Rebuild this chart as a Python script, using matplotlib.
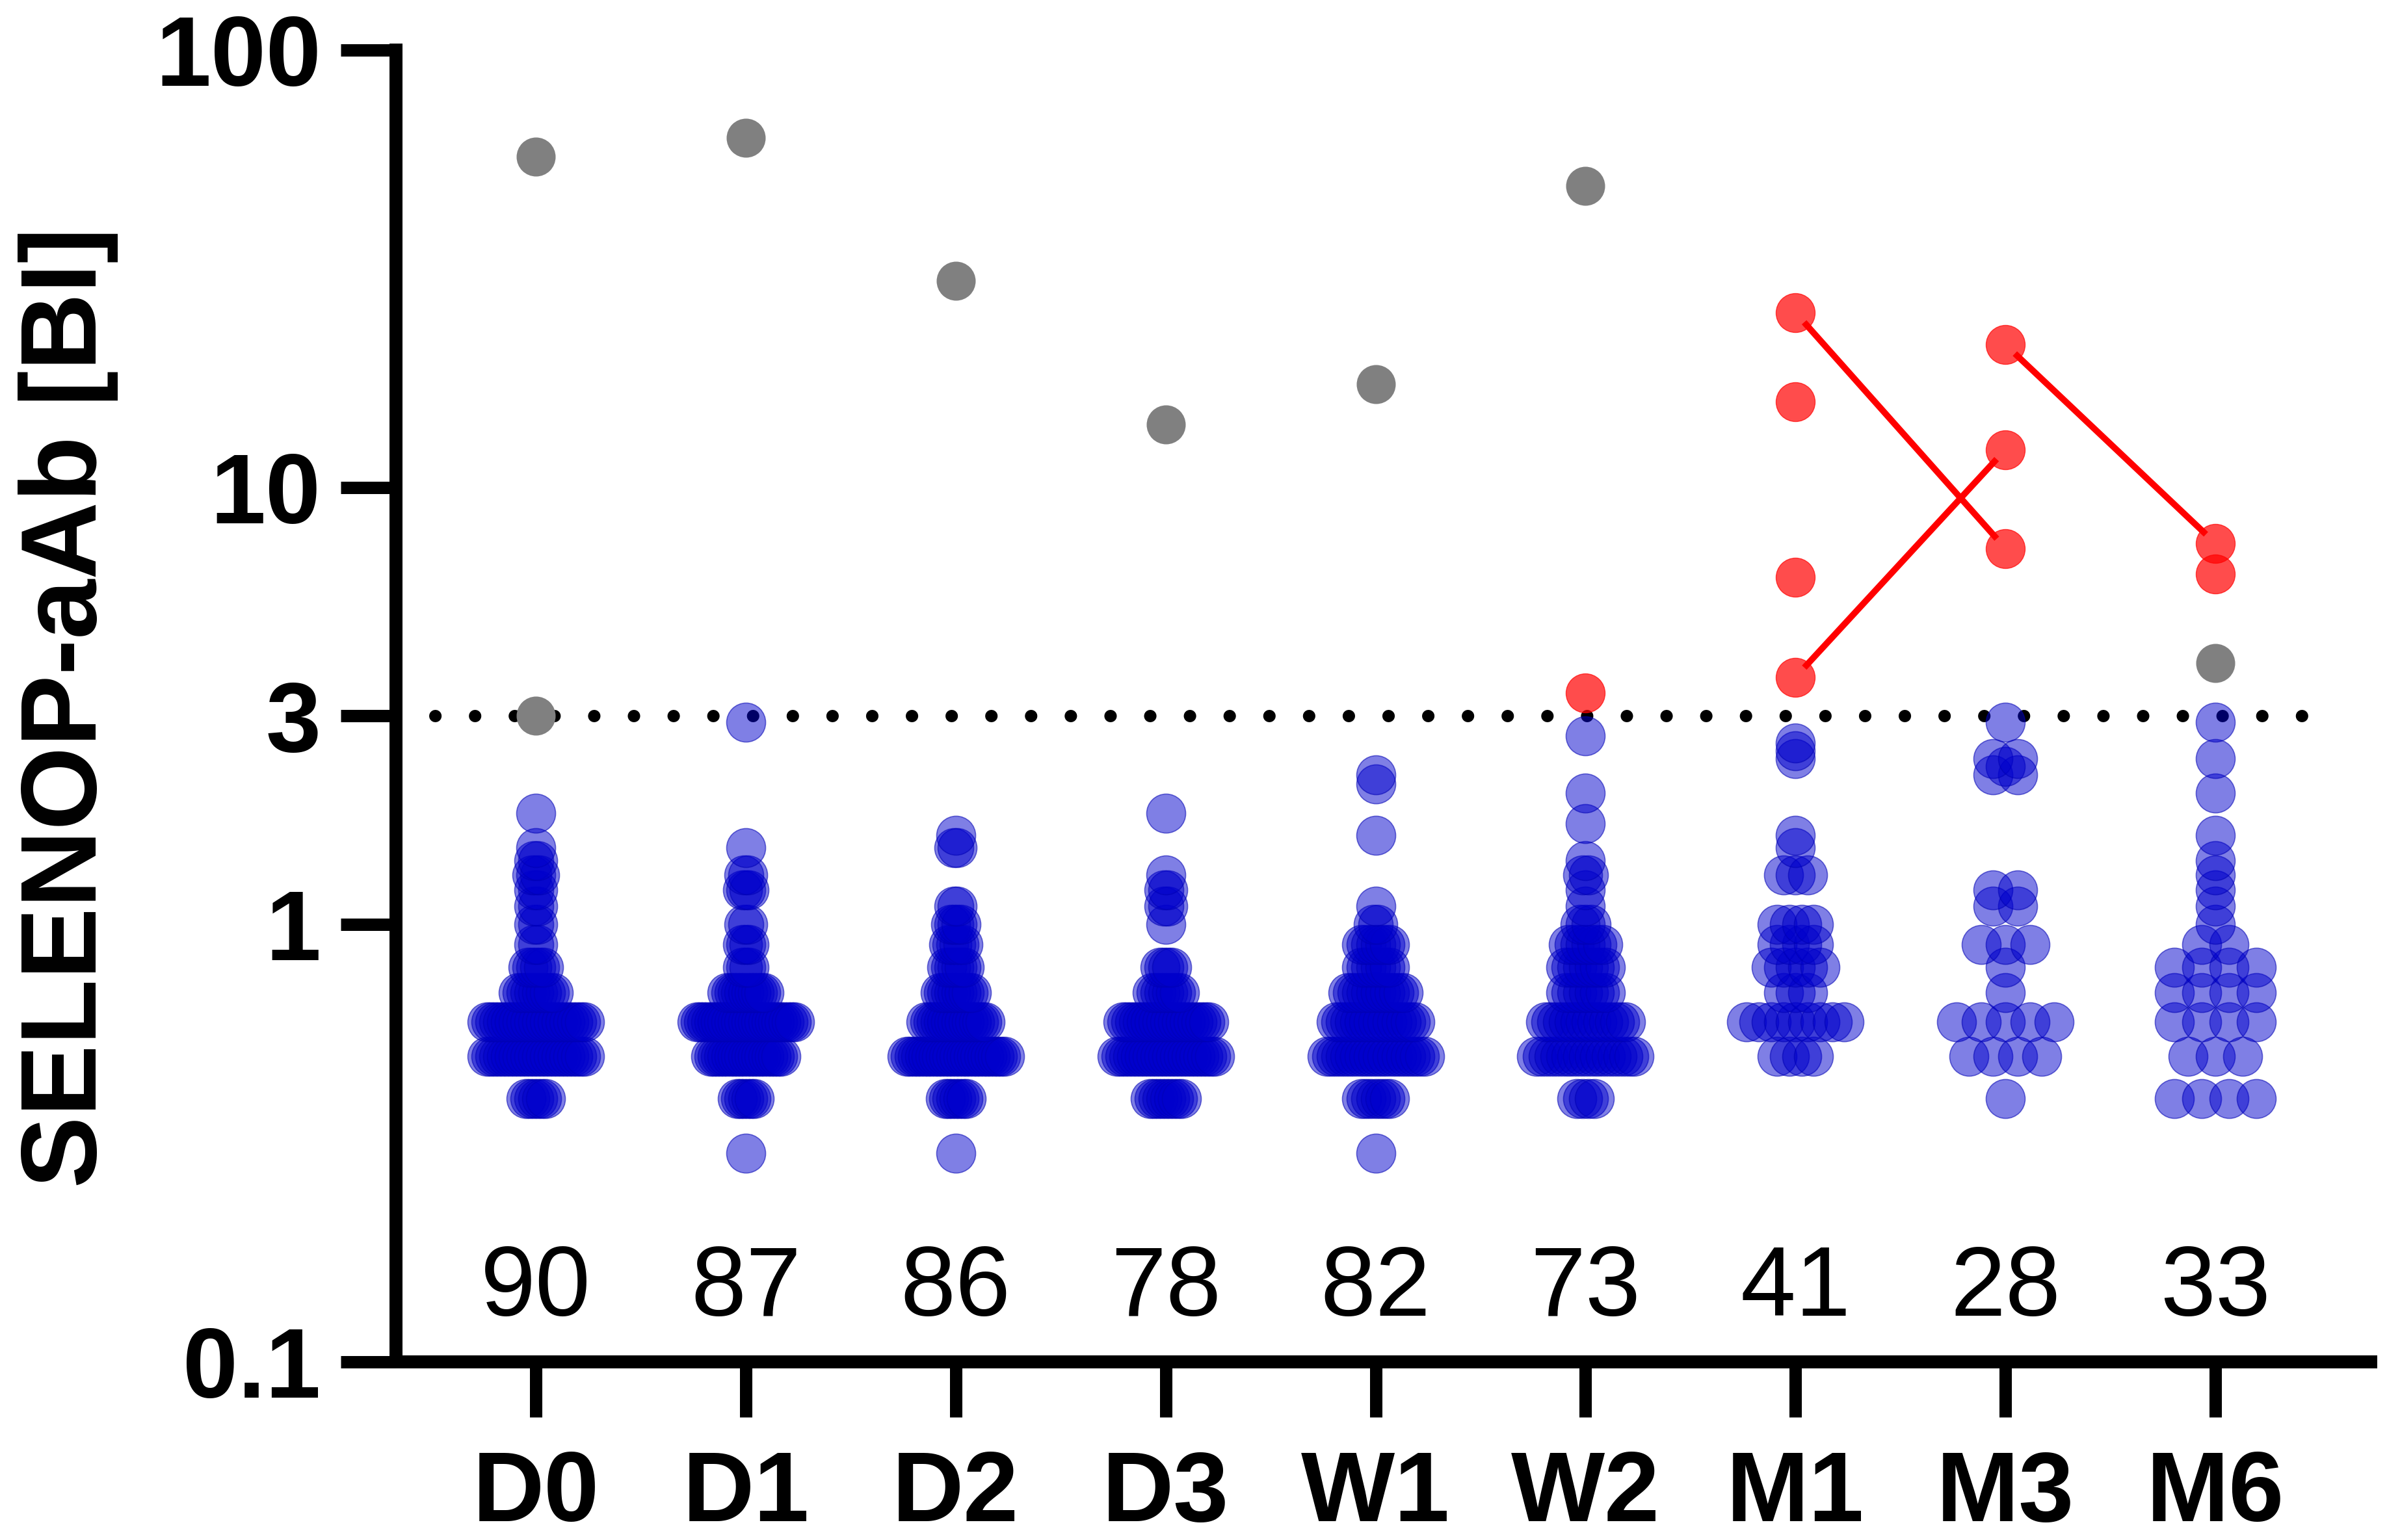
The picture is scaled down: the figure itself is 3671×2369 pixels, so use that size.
import numpy as np
import matplotlib
matplotlib.use('Agg')
import matplotlib.pyplot as plt

# time points and number of samples per time point
groups = ['D0', 'D1', 'D2', 'D3', 'W1', 'W2', 'M1', 'M3', 'M6']
n_labels = [90, 87, 86, 78, 82, 73, 41, 28, 33]
cutoff = 3

# negative samples (blue): measured levels and how many samples sit on each level
levels_D0 = [0.4, 0.5, 0.6, 0.7, 0.8, 0.9, 1.0, 1.1, 1.2, 1.3, 1.4, 1.5, 1.8]
counts_D0 = [6, 26, 26, 10, 5, 2, 2, 2, 2, 3, 2, 1, 1]
levels_D1 = [0.3, 0.4, 0.5, 0.6, 0.7, 0.8, 0.9, 1.0, 1.2, 1.3, 1.5, 2.9]
counts_D1 = [1, 6, 22, 30, 12, 3, 3, 2, 3, 2, 1, 1]
levels_D2 = [0.3, 0.4, 0.5, 0.6, 0.7, 0.8, 0.9, 1.0, 1.1, 1.5, 1.6]
counts_D2 = [1, 7, 29, 18, 10, 6, 5, 4, 2, 2, 1]
levels_D3 = [0.4, 0.5, 0.6, 0.7, 0.8, 1.0, 1.1, 1.2, 1.3, 1.8]
counts_D3 = [9, 26, 23, 8, 4, 1, 2, 2, 1, 1]
levels_W1 = [0.3, 0.4, 0.5, 0.6, 0.7, 0.8, 0.9, 1.0, 1.1, 1.6, 2.1, 2.2]
counts_W1 = [1, 7, 22, 18, 13, 7, 7, 2, 1, 1, 1, 1]
levels_W2 = [0.4, 0.5, 0.6, 0.7, 0.8, 0.9, 1.0, 1.1, 1.2, 1.3, 1.4, 1.7, 2.0, 2.7]
counts_W2 = [4, 18, 15, 8, 8, 7, 3, 1, 1, 2, 1, 1, 1, 1]
levels_M1 = [0.5, 0.6, 0.7, 0.8, 0.9, 1.0, 1.3, 1.5, 1.6, 2.4, 2.5, 2.6]
counts_M1 = [4, 9, 3, 5, 4, 4, 3, 1, 1, 1, 1, 1]
levels_M3 = [0.4, 0.5, 0.6, 0.7, 0.8, 0.9, 1.1, 1.2, 2.2, 2.3, 2.4, 2.9]
counts_M3 = [1, 4, 5, 1, 1, 3, 2, 2, 2, 1, 2, 1]
levels_M6 = [0.4, 0.5, 0.6, 0.7, 0.8, 0.9, 1.0, 1.1, 1.2, 1.3, 1.4, 1.6, 2.0, 2.4, 2.9]
counts_M6 = [4, 3, 4, 4, 4, 2, 1, 1, 1, 1, 1, 1, 1, 1, 1]

# positive samples (gray) and positive samples of followed patients (red)
gray_x = ['D0', 'D0', 'D1', 'D2', 'D3', 'W1', 'W2', 'M6']
gray_y = [57, 3.0, 63, 29.7, 13.9, 17.2, 48.9, 3.97]
red_x = ['W2', 'M1', 'M1', 'M1', 'M1', 'M3', 'M3', 'M3', 'M6', 'M6']
red_y = [3.39, 25.1, 15.7, 6.23, 3.68, 21.2, 12.2, 7.25, 7.45, 6.34]
# same patient followed over time: (from group, from value, to group, to value)
pair_from_x = ['M1', 'M1', 'M3']
pair_from_y = [25.1, 3.68, 21.2]
pair_to_x = ['M3', 'M3', 'M6']
pair_to_y = [7.25, 12.2, 7.45]

blue_levels = [levels_D0, levels_D1, levels_D2, levels_D3, levels_W1,
               levels_W2, levels_M1, levels_M3, levels_M6]
blue_counts = [counts_D0, counts_D1, counts_D2, counts_D3, counts_W1,
               counts_W2, counts_M1, counts_M3, counts_M6]


def main():
    plt.rcParams['font.family'] = ['Liberation Sans', 'DejaVu Sans']

    W, H, DPI = 3671, 2369, 100
    fig = plt.figure(figsize=(W / DPI, H / DPI), dpi=DPI)
    ax = fig.add_axes([609 / W, 274 / H, 3037 / W, 2018 / H])
    ax.set_yscale('log')
    xlim = (-0.666, 8.74)
    ax.set_xlim(xlim)
    ax.set_ylim(0.1, 100)

    px_per_unit = 3037 / (xlim[1] - xlim[0])
    dot_px = 60
    s = (dot_px * 72 / DPI) ** 2
    pos = {g: i for i, g in enumerate(groups)}

    # scatter-dot layout: points on one level spread sideways, column width capped
    xs, ys = [], []
    for i, (lv, ct) in enumerate(zip(blue_levels, blue_counts)):
        step = min(0.7 * dot_px, 150 / max(max(ct) - 1, 1))
        for v, n in zip(lv, ct):
            offs = (np.arange(n) - (n - 1) / 2) * step
            xs.extend(i + offs / px_per_unit)
            ys.extend([v] * n)
    ax.scatter(xs, ys, s=s, facecolor=(0, 0, 0.8, 0.5),
               edgecolor=(0, 0, 0.7, 0.55), linewidth=1.2, zorder=3, clip_on=False)

    ax.scatter([pos[g] for g in gray_x], gray_y, s=s, color='#808080',
               linewidth=0, zorder=4, clip_on=False)
    ax.scatter([pos[g] for g in red_x], red_y, s=s, facecolor=(1, 0, 0, 0.7),
               edgecolor=(1, 0, 0, 0.7), linewidth=1, zorder=5, clip_on=False)

    # connecting lines, trimmed a bit so they end inside the dots
    for gx0, y0, gx1, y1 in zip(pair_from_x, pair_from_y, pair_to_x, pair_to_y):
        p0 = ax.transData.transform((pos[gx0], y0))
        p1 = ax.transData.transform((pos[gx1], y1))
        d = (p1 - p0) / np.hypot(*(p1 - p0))
        q0 = ax.transData.inverted().transform(p0 + d * 20)
        q1 = ax.transData.inverted().transform(p1 - d * 20)
        ax.plot([q0[0], q1[0]], [q0[1], q1[1]], color='#ff0000', lw=7,
                solid_capstyle='butt', zorder=6)

    # cut-off line
    ax.axhline(cutoff, xmin=60 / 3037, xmax=2966 / 3037, color='black', lw=13.7,
               linestyle=(0, (0.01, 3.2)), dash_capstyle='round', zorder=2)

    for i, n in enumerate(n_labels):
        ax.text(i, 0.1276, str(n), ha='center', va='baseline', fontsize=110)

    for side in ['top', 'right']:
        ax.spines[side].set_visible(False)
    for side in ['left', 'bottom']:
        ax.spines[side].set_linewidth(14.4)
        ax.spines[side].set_capstyle('projecting')

    ax.set_xticks(range(len(groups)))
    ax.set_xticklabels(groups, fontweight='bold')
    yt = [0.1, 1, 3, 10, 100]
    ax.set_yticks(yt)
    ax.set_yticklabels(['0.1', '1', '3', '10', '100'], fontweight='bold')
    ax.yaxis.set_minor_locator(matplotlib.ticker.NullLocator())
    ax.tick_params(axis='both', direction='out', width=13.7, length=61,
                   labelsize=110, color='black')
    ax.tick_params(axis='x', pad=36)
    ax.tick_params(axis='y', pad=22)

    fig.text(105 / W, 1 - 1088 / H, 'SELENOP-aAb [BI]', rotation=90,
             ha='center', va='center', fontsize=119, fontweight='bold')

    fig.savefig('out.png', dpi=DPI)


if __name__ == '__main__': main()
